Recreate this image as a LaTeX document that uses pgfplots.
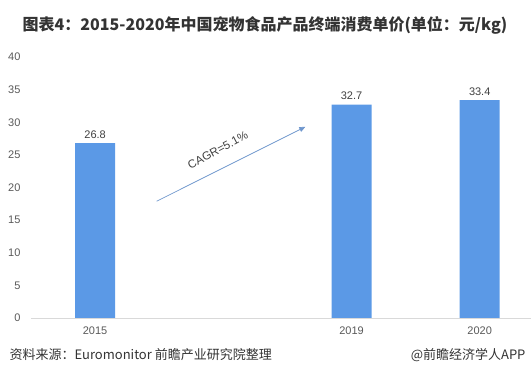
\documentclass[border=0pt]{standalone}
\usepackage{fontspec}
\setmainfont{Liberation Sans}
\newfontfamily\cjk{Noto Sans CJK SC}
\usepackage{pgfplots}
\pgfplotsset{compat=1.18}
\usetikzlibrary{arrows.meta}
\definecolor{barblue}{RGB}{91,153,230}
\definecolor{txt}{RGB}{64,64,64}
\definecolor{tickgray}{RGB}{89,89,89}
\definecolor{axgray}{RGB}{217,217,217}
\definecolor{arrowc}{RGB}{110,150,205}
\definecolor{titlec}{RGB}{51,51,51}
\begin{document}
\begin{tikzpicture}[x=1pt,y=1pt]
\useasboundingbox (0,0) rectangle (531,380);
\begin{axis}[
  at={(31pt,62pt)}, anchor=south west,
  scale only axis, width=500pt, height=261pt,
  xmin=-0.5, xmax=3.4, ymin=0, ymax=40,
  ytick={0,5,...,40},
  xtick={0,2,3}, xticklabels={2015,2019,2020},
  axis lines*=left,
  y axis line style={draw=none},
  x axis line style={draw=axgray, line width=0.8pt},
  major tick length=0pt,
  tick style={draw=none},
  /pgf/number format/assume math mode=true,
  yticklabel style={font=\fontsize{11}{13}\selectfont, color=tickgray, xshift=-7pt},
  xticklabel style={font=\fontsize{11}{13}\selectfont, color=tickgray, yshift=-5pt},
  clip=false,
]
\addplot[ybar, bar width=40pt, fill=barblue, draw=none,
  nodes near coords,
  every node near coord/.append style={font=\fontsize{11}{13}\selectfont, color=txt, yshift=1pt},
  point meta=explicit symbolic]
  coordinates {(0,26.8) [26.8] (2,32.7) [32.7] (3,33.4) [33.4]};
\draw[arrowc, line width=0.7pt, -{Triangle[length=6pt,width=5pt]}] (axis cs:0.48,17.9) -- (axis cs:1.64,29.3);
\node[rotate=28, font=\fontsize{11.5}{13}\selectfont, color=txt] at (axis cs:0.957,25.75) {CAGR=5.1\%};
\end{axis}
\node[font=\cjk\bfseries\fontsize{16}{19}\selectfont, color=titlec] at (265,355) {图表4：2015-2020年中国宠物食品产品终端消费单价(单位：元/kg)};
\node[anchor=west, font=\cjk\fontsize{13}{15}\selectfont, color=titlec] at (6,25) {资料来源：Euromonitor 前瞻产业研究院整理};
\node[anchor=east, font=\cjk\fontsize{13}{15}\selectfont, color=titlec] at (529,25) {@前瞻经济学人APP};
\end{tikzpicture}
\end{document}
